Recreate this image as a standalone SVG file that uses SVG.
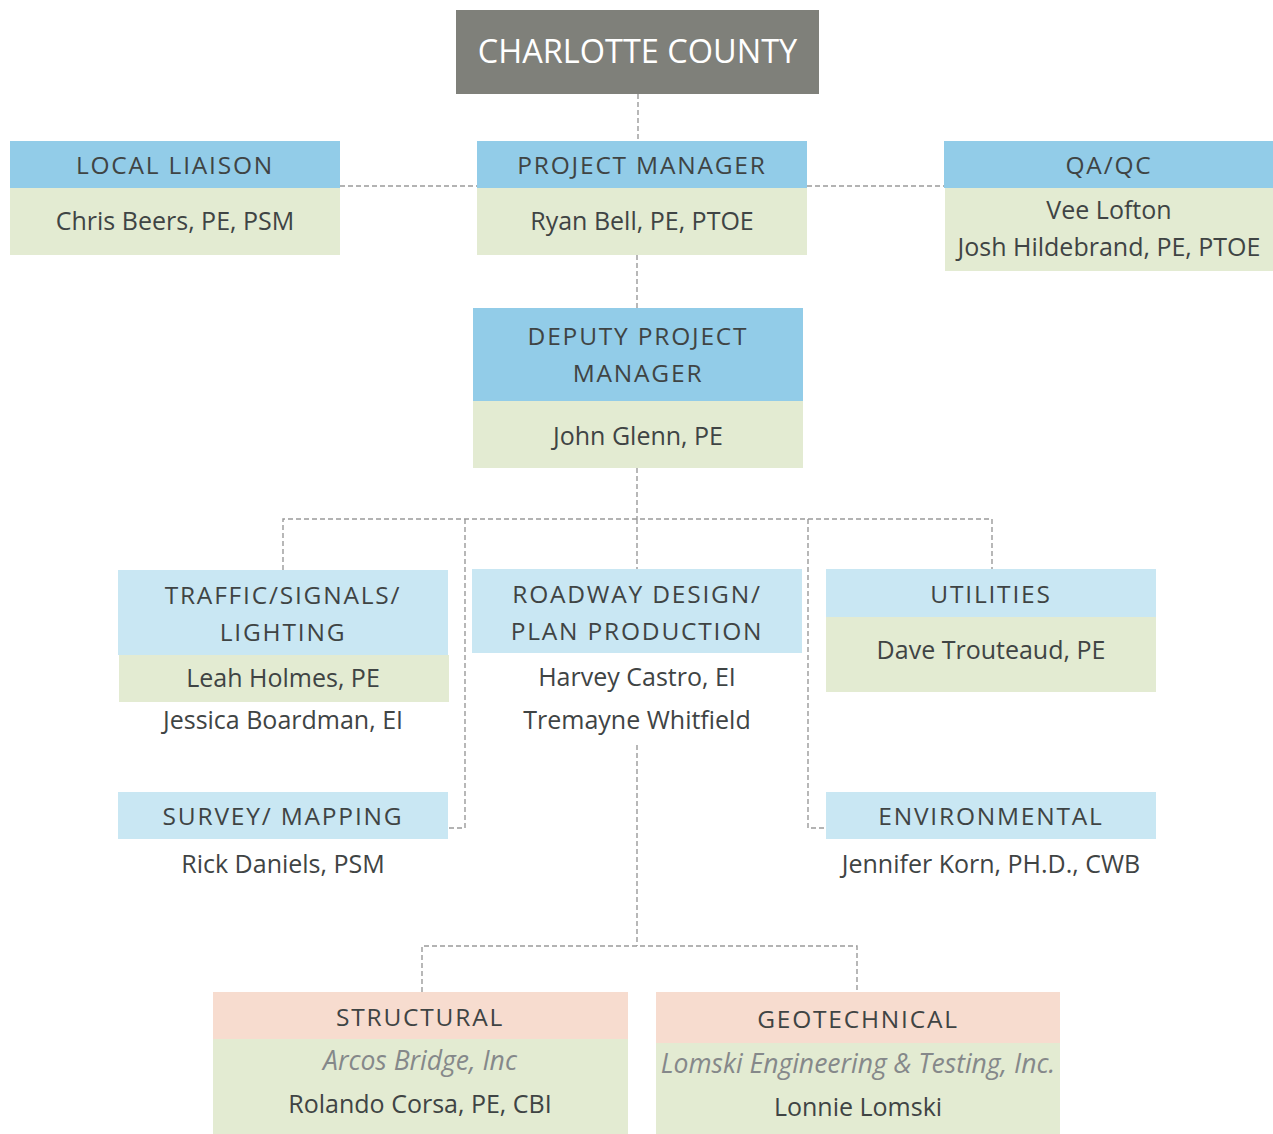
<svg xmlns="http://www.w3.org/2000/svg" width="1273" height="1134" viewBox="0 0 1273 1134">
<style>
.t{font-family:"Open Sans","Noto Sans","DejaVu Sans",sans-serif;font-size:25px;fill:#3f4444;text-anchor:middle}
.h{letter-spacing:1.8px;font-size:24.5px}
.i{font-style:italic;fill:#85888a;font-size:26.5px}
.b1{fill:#92cce8}
.b2{fill:#c9e7f3}
.g{fill:#e3ebd2}
.p{fill:#f7dccf}
.c{fill:none;stroke:#9a9a9a;stroke-width:1.4;stroke-dasharray:5,3}
</style>
<rect width="1273" height="1134" fill="#ffffff"/>
<g id="connectors">
<path class="c" d="M638 94V141"/>
<path class="c" d="M340 186H477M807 186H944"/>
<path class="c" d="M637 255V308"/>
<path class="c" d="M637 468V519M283 570V519H992V569M637 519V569"/>
<path class="c" d="M465 519V828H448M808 519V828H826"/>
<path class="c" d="M637 745V946M422 992V946H857V992"/>
</g>
<g id="charlotte">
<rect x="456" y="10" width="363" height="84" fill="#7f807a"/>
<text class="t" x="637.5" y="63" style="fill:#ffffff;font-size:32.5px">CHARLOTTE COUNTY</text>
</g>
<g id="local-liaison">
<rect class="b1" x="10" y="141" width="330" height="47"/>
<rect class="g" x="10" y="188" width="330" height="67"/>
<text class="t h" x="175" y="174">LOCAL LIAISON</text>
<text class="t" x="175" y="230">Chris Beers, PE, PSM</text>
</g>
<g id="project-manager">
<rect class="b1" x="477" y="141" width="330" height="47"/>
<rect class="g" x="477" y="188" width="330" height="67"/>
<text class="t h" x="642" y="174">PROJECT MANAGER</text>
<text class="t" x="642" y="230">Ryan Bell, PE, PTOE</text>
</g>
<g id="qaqc">
<rect class="b1" x="944" y="141" width="329" height="47"/>
<rect class="g" x="945" y="188" width="328" height="83"/>
<text class="t h" x="1109" y="174">QA/QC</text>
<text class="t" x="1109" y="219">Vee Lofton</text>
<text class="t" x="1109" y="256">Josh Hildebrand, PE, PTOE</text>
</g>
<g id="deputy">
<rect class="b1" x="473" y="308" width="330" height="93"/>
<rect class="g" x="473" y="401" width="330" height="67"/>
<text class="t h" x="638" y="345">DEPUTY PROJECT</text>
<text class="t h" x="638" y="382">MANAGER</text>
<text class="t" x="638" y="445">John Glenn, PE</text>
</g>
<g id="traffic">
<rect class="b2" x="118" y="570" width="330" height="85"/>
<rect class="g" x="119" y="655" width="330" height="47"/>
<text class="t h" x="283" y="604">TRAFFIC/SIGNALS/</text>
<text class="t h" x="283" y="641">LIGHTING</text>
<text class="t" x="283" y="687">Leah Holmes, PE</text>
<text class="t" x="283" y="729">Jessica Boardman, EI</text>
</g>
<g id="roadway">
<rect class="b2" x="472" y="569" width="330" height="84"/>
<text class="t h" x="637" y="603">ROADWAY DESIGN/</text>
<text class="t h" x="637" y="640">PLAN PRODUCTION</text>
<text class="t" x="637" y="686">Harvey Castro, EI</text>
<text class="t" x="637" y="729">Tremayne Whitfield</text>
</g>
<g id="utilities">
<rect class="b2" x="826" y="569" width="330" height="48"/>
<rect class="g" x="826" y="617" width="330" height="75"/>
<text class="t h" x="991" y="603">UTILITIES</text>
<text class="t" x="991" y="659">Dave Trouteaud, PE</text>
</g>
<g id="survey">
<rect class="b2" x="118" y="792" width="330" height="47"/>
<text class="t h" x="283" y="825">SURVEY/ MAPPING</text>
<text class="t" x="283" y="873">Rick Daniels, PSM</text>
</g>
<g id="environmental">
<rect class="b2" x="826" y="792" width="330" height="47"/>
<text class="t h" x="991" y="825">ENVIRONMENTAL</text>
<text class="t" x="991" y="873">Jennifer Korn, PH.D., CWB</text>
</g>
<g id="structural">
<rect class="p" x="213" y="992" width="415" height="47"/>
<rect class="g" x="213" y="1039" width="415" height="95"/>
<text class="t h" x="420" y="1026">STRUCTURAL</text>
<text class="t i" x="420" y="1070">Arcos Bridge, Inc</text>
<text class="t" x="420" y="1113">Rolando Corsa, PE, CBI</text>
</g>
<g id="geotechnical">
<rect class="p" x="656" y="992" width="404" height="51"/>
<rect class="g" x="656" y="1043" width="404" height="91"/>
<text class="t h" x="858" y="1028">GEOTECHNICAL</text>
<text class="t i" x="858" y="1073">Lomski Engineering &amp; Testing, Inc.</text>
<text class="t" x="858" y="1116">Lonnie Lomski</text>
</g>
</svg>
